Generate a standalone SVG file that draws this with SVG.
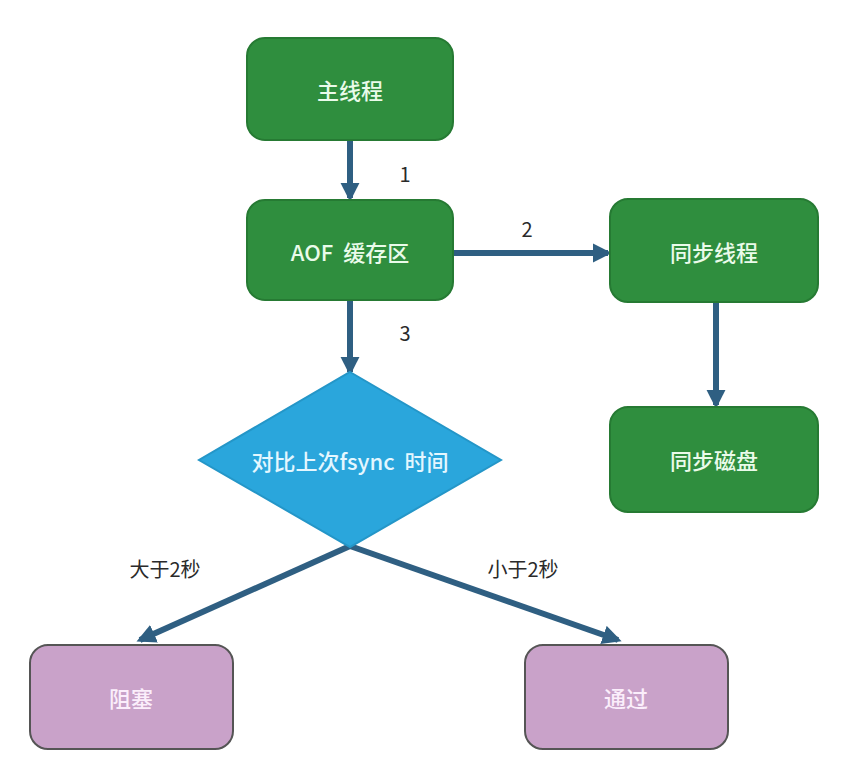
<svg xmlns="http://www.w3.org/2000/svg" width="858" height="768" viewBox="0 0 858 768">
<defs>
<style>
.g{fill:#2f8e3e;stroke:#267a33;stroke-width:2}
.p{fill:#c9a2c9;stroke:#555;stroke-width:2}
.t{font-family:"Noto Sans CJK SC","DejaVu Sans Mono",sans-serif;font-size:22px;font-weight:500;fill:#eafbea;text-anchor:middle;dominant-baseline:central}
.tp{fill:#fbeefb}
.l{font-family:"Noto Sans CJK SC","Liberation Sans",sans-serif;font-size:20px;fill:#2a2a2a;text-anchor:middle;dominant-baseline:central}
.c{stroke:#2f5f82;stroke-width:6;fill:none}
</style>
<marker id="ah" viewBox="0 0 10 10" refX="8" refY="5" markerWidth="3.2" markerHeight="3.2" orient="auto" markerUnits="strokeWidth">
<path d="M0,0 L10,5 L0,10 z" fill="#2f5f82"/>
</marker>
</defs>
<rect width="858" height="768" fill="#fff"/>
<g id="connectors">
<line class="c" x1="350" y1="140" x2="350" y2="198" marker-end="url(#ah)"/>
<line class="c" x1="453" y1="253" x2="608" y2="253" marker-end="url(#ah)"/>
<line class="c" x1="350" y1="300" x2="350" y2="372" marker-end="url(#ah)"/>
<line class="c" x1="716" y1="302" x2="716" y2="405" marker-end="url(#ah)"/>
<line class="c" x1="350" y1="546" x2="140" y2="640" marker-end="url(#ah)"/>
<line class="c" x1="350" y1="546" x2="618" y2="640" marker-end="url(#ah)"/>
<text class="l" x="405" y="173">1</text>
<text class="l" x="527" y="228">2</text>
<text class="l" x="405" y="332">3</text>
<text class="l" x="165" y="568">大于2秒</text>
<text class="l" x="523" y="568">小于2秒</text>
</g>
<g id="main"><rect class="g" x="247" y="38" width="206" height="102" rx="18"/><text class="t" x="350" y="89">主线程</text></g>
<g id="aof"><rect class="g" x="247" y="200" width="206" height="100" rx="18"/><text class="t" x="350" y="251">AOF&#160;&#160;缓存区</text></g>
<g id="sync"><rect class="g" x="610" y="199" width="208" height="103" rx="18"/><text class="t" x="714" y="251">同步线程</text></g>
<g id="disk"><rect class="g" x="610" y="407" width="208" height="105" rx="18"/><text class="t" x="714" y="459">同步磁盘</text></g>
<g id="compare"><polygon points="350,372 501,460 350,547 199,460" fill="#2aa6dc" stroke="#2496c8" stroke-width="2"/><text class="t" x="350" y="460" style="fill:#e4f7ff">对比上次fsync&#160;&#160;时间</text></g>
<g id="block"><rect class="p" x="30" y="645" width="203" height="104" rx="18"/><text class="t tp" x="131" y="697">阻塞</text></g>
<g id="pass"><rect class="p" x="525" y="645" width="203" height="104" rx="18"/><text class="t tp" x="626" y="697">通过</text></g>
</svg>
